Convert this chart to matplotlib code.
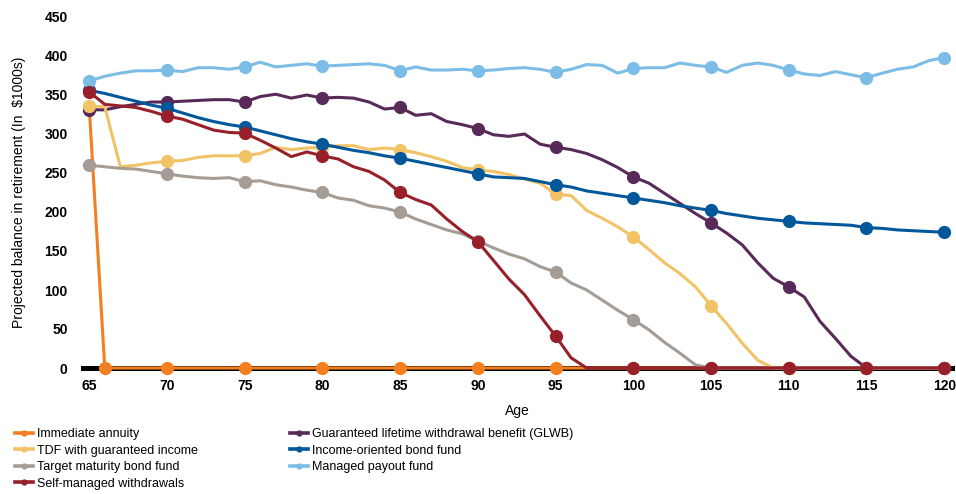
import matplotlib.pyplot as plt
from matplotlib.lines import Line2D

ages = list(range(65, 121))

immediate_annuity = [
    335, 0, 0, 0, 0, 0, 0, 0, 0, 0,
    0, 0, 0, 0, 0, 0, 0, 0, 0, 0,
    0, 0, 0, 0, 0, 0, 0, 0, 0, 0,
    0, 0, 0, 0, 0, 0, 0, 0, 0, 0,
    0, 0, 0, 0, 0, 0, 0, 0, 0, 0,
    0, 0, 0, 0, 0, 0,
]
glwb = [
    331, 331, 335, 338, 341, 341, 342, 343, 344, 344,
    341, 348, 351, 346, 350, 346, 347, 346, 341, 332,
    334, 324, 326, 316, 312, 307, 299, 297, 300, 287,
    283, 280, 275, 267, 257, 245, 237, 224, 211, 198,
    186, 173, 158, 135, 115, 104, 91, 60, 38, 15,
    0, 0, 0, 0, 0, 0,
]
tdf_income = [
    336, 335, 258, 260, 263, 265, 266, 270, 272, 272,
    272, 275, 283, 280, 282, 283, 285, 285, 280, 282,
    280, 276, 271, 265, 257, 254, 252, 248, 242, 237,
    223, 221, 202, 192, 181, 168, 152, 135, 121, 104,
    80, 57, 32, 10, 0, 0, 0, 0, 0, 0,
    0, 0, 0, 0, 0, 0,
]
income_bond = [
    356, 352, 347, 342, 337, 333, 327, 321, 316, 312,
    309, 304, 299, 294, 290, 287, 283, 279, 276, 272,
    269, 265, 261, 257, 253, 249, 245, 244, 243, 239,
    235, 232, 227, 224, 221, 218, 215, 212, 208, 205,
    202, 198, 195, 192, 190, 188, 186, 185, 184, 183,
    180, 179, 177, 176, 175, 174,
]
target_maturity = [
    260, 258, 256, 255, 252, 249, 246, 244, 243, 244,
    239, 240, 235, 232, 228, 225, 218, 215, 208, 205,
    200, 191, 184, 177, 172, 163, 154, 146, 140, 130,
    123, 109, 100, 87, 74, 62, 49, 33, 19, 4,
    0, 0, 0, 0, 0, 0, 0, 0, 0, 0,
    0, 0, 0, 0, 0, 0,
]
managed_payout = [
    368, 374, 378, 381, 381, 382, 380, 385, 385, 383,
    386, 392, 386, 388, 390, 387, 388, 389, 390, 388,
    381, 386, 382, 382, 383, 381, 382, 384, 385, 383,
    379, 383, 389, 388, 378, 384, 385, 385, 391, 388,
    386, 379, 388, 391, 388, 382, 377, 375, 380, 376,
    372, 378, 383, 386, 394, 398,
]
self_managed = [
    354, 338, 336, 334, 329, 323, 319, 312, 305, 302,
    301, 292, 282, 271, 277, 272, 268, 258, 252, 241,
    225, 216, 209, 191, 175, 162, 138, 114, 94, 67,
    41, 13, 0, 0, 0, 0, 0, 0, 0, 0,
    0, 0, 0, 0, 0, 0, 0, 0, 0, 0,
    0, 0, 0, 0, 0, 0,
]

# drawing order (last one ends up on top along the zero line)
series = [
    ("Immediate annuity", immediate_annuity, "#F47F20"),
    ("Guaranteed lifetime withdrawal benefit (GLWB)", glwb, "#582A57"),
    ("TDF with guaranteed income", tdf_income, "#F2C366"),
    ("Income-oriented bond fund", income_bond, "#00579A"),
    ("Target maturity bond fund", target_maturity, "#A59D95"),
    ("Managed payout fund", managed_payout, "#7CBDE8"),
    ("Self-managed withdrawals", self_managed, "#98202A"),
]

plt.rcParams['font.family'] = ['Liberation Sans', 'DejaVu Sans']

fig = plt.figure(figsize=(9.56, 4.94), dpi=100)
ax = fig.add_axes([83 / 956, 126 / 494, 869 / 956, 351 / 494])

every5 = list(range(0, len(ages), 5))
handles = {}
for i, (name, vals, color) in enumerate(series):
    marks = every5
    if name == "Immediate annuity":
        marks = sorted(set(every5 + [1]))
    ax.plot(ages, vals, color=color, lw=2.2, marker='o', markersize=9.5,
            markeredgewidth=0, markevery=marks, zorder=3 + i,
            solid_joinstyle='round', clip_on=False)
    handles[name] = Line2D([], [], color=color, lw=2.6, marker='o',
                           markersize=4.5, markeredgewidth=0)

ax.set_xlim(64.6, 120.5)
ax.set_ylim(0, 450)
ax.set_xticks(range(65, 121, 5))
ax.set_yticks(range(0, 451, 50))
for side in ['top', 'right', 'left']:
    ax.spines[side].set_visible(False)
ax.spines['bottom'].set_linewidth(3.6)
ax.spines['bottom'].set_color('black')
ax.spines['bottom'].set_zorder(2.5)
ax.tick_params(axis='both', length=0, labelsize=10)
ax.tick_params(axis='y', pad=11)
ax.tick_params(axis='x', pad=8)
for lbl in ax.get_xticklabels() + ax.get_yticklabels():
    lbl.set_fontweight('bold')

ax.set_xlabel("Age", fontsize=10, labelpad=8)
ax.set_ylabel("Projected balance in retirement (In  $1000s)", fontsize=10, labelpad=13)

legend_font = {'family': ['Liberation Sans'], 'size': 9}
col1 = ["Immediate annuity", "TDF with guaranteed income",
        "Target maturity bond fund", "Self-managed withdrawals"]
col2 = ["Guaranteed lifetime withdrawal benefit (GLWB)",
        "Income-oriented bond fund", "Managed payout fund"]
for names, x0 in [(col1, 15 / 956), (col2, 290 / 956)]:
    fig.legend([handles[n] for n in names], names, loc='upper left',
               bbox_to_anchor=(x0, 66 / 494), frameon=False, prop=legend_font,
               handlelength=1.45, handletextpad=0.3, labelspacing=0.36,
               borderpad=0, borderaxespad=0)

fig.savefig("out.png", dpi=100)
